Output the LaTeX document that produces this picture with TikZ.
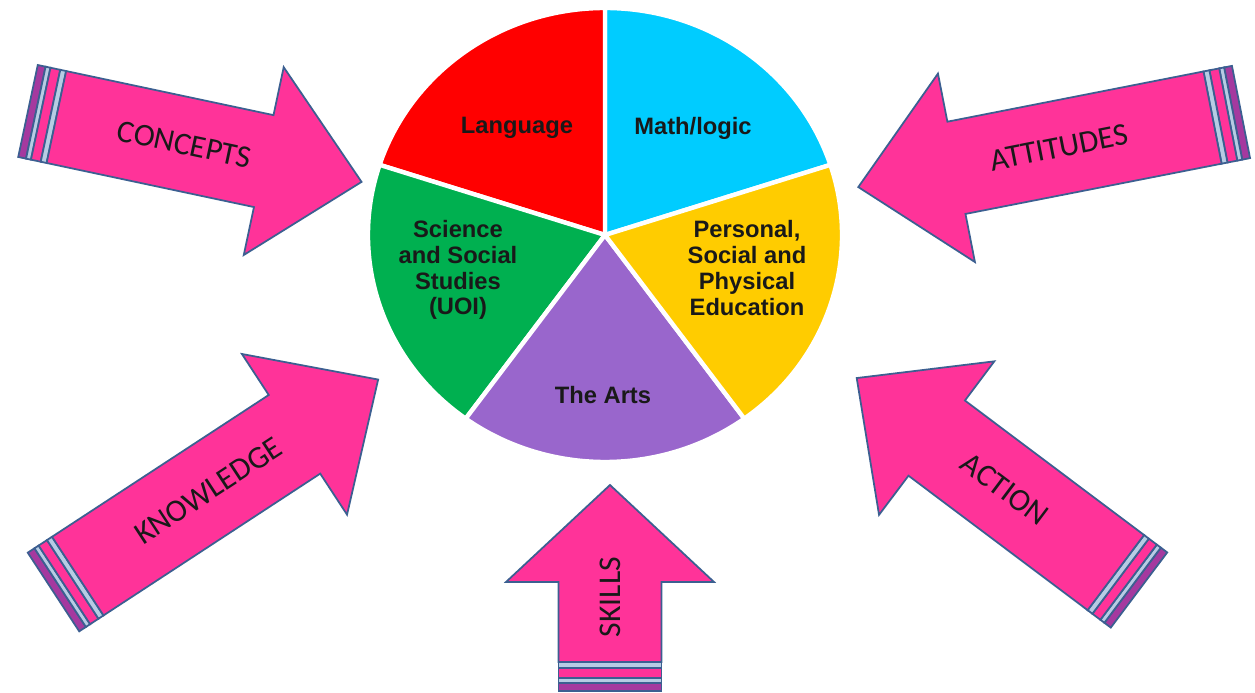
\documentclass[tikz,border=0pt]{standalone}
\usepackage{fontspec}
\setmainfont{Liberation Sans}
\newfontfamily\arrowfont{Carlito}

\definecolor{hotpink}{HTML}{FF3399}
\definecolor{edgeblue}{HTML}{3C5F91}
\definecolor{stripeblue}{HTML}{B7CCE4}
\definecolor{bandpurple}{HTML}{A5399F}
\definecolor{piered}{HTML}{FF0000}
\definecolor{piecyan}{HTML}{00CCFF}
\definecolor{pieyellow}{HTML}{FFCC00}
\definecolor{piegreen}{HTML}{00B050}
\definecolor{piepurple}{HTML}{9966CC}

\tikzset{
  arrowbody/.style={fill=hotpink, draw=edgeblue, line width=1pt, line join=miter},
  stripe/.style={fill=#1, draw=edgeblue, line width=1pt},
  arrowlabel/.style={font=\arrowfont\fontsize{18}{20}\selectfont, text=black!90},
  slice/.style={fill=#1, draw=white, line width=2.5pt, line join=round},
  slicelabel/.style={font=\bfseries\fontsize{13.5}{14.7}\selectfont, align=center, text=black!90},
}

% block arrow with striped tail: name, tail, angle, length, label pos, label
\newcommand{\crayonarrow}[6]{%
  \begin{scope}[shift={#2}, rotate=#3]
    \draw[stripe=bandpurple] (0,-\sw) rectangle (8,\sw);
    \draw[stripe=stripeblue] (8,-\sw) rectangle (13,\sw);
    \draw[stripe=hotpink] (13,-\sw) rectangle (23,\sw);
    \draw[stripe=stripeblue] (23,-\sw) rectangle (29,\sw);
    \draw[arrowbody] (29,-\sw) -- ({#4-\hl},-\sw) -- ({#4-\hl},-\hw) -- (#4,0)
      -- ({#4-\hl},\hw) -- ({#4-\hl},\sw) -- (29,\sw) -- cycle;
    \pgfmathsetmacro\labelrot{cos(#3)<(-0.01) ? #3-180 : #3}
    \node[arrowlabel, rotate=\labelrot] (#1) at (#5,0) {#6};
  \end{scope}}

% pie slice: colour, start angle, end angle
\newcommand{\pieslice}[3]{%
  \draw[slice=#1] (c) -- ++({\rx*cos(#2)},{\ry*sin(#2)})
    arc[start angle=#2, end angle=#3, x radius=\rx, y radius=\ry] -- cycle;}

\begin{document}
\begin{tikzpicture}[x=0.02cm, y=0.02cm]
\useasboundingbox (0,0) rectangle (1255,693);
\clip (0,0) rectangle (1255,693);

% pie
\coordinate (c) at (605,458);
\def\rx{237}\def\ry{227}
\pieslice{piecyan}{18}{90}
\pieslice{piered}{90}{162}
\pieslice{piegreen}{162}{234}
\pieslice{piepurple}{234}{306}
\pieslice{pieyellow}{-54}{18}

\node[slicelabel] (lang) at (517,565) {Language};
\node[slicelabel] (math) at (693,565) {Math/logic};
\node[slicelabel] (sci) at (458,423) {Science\\and Social\\Studies\\(UOI)};
\node[slicelabel] (pse) at (747,425) {Personal,\\Social and\\Physical\\Education};
\node[slicelabel] (arts) at (603,298) {The Arts};

% arrows
\def\sw{47}\def\hw{96}\def\hl{100}
\crayonarrow{concepts}{(28,582)}{-12}{341}{160}{CONCEPTS}
\crayonarrow{attitudes}{(1241,581)}{191.1}{390}{185}{ATTITUDES}
\crayonarrow{knowledge}{(53.5,101)}{33.2}{388}{185}{KNOWLEDGE}
\crayonarrow{action}{(1139,103)}{143.1}{353}{168}{ACTION}
\def\sw{51.5}\def\hw{104}\def\hl{97}
\crayonarrow{skills}{(610,2)}{90}{206}{94}{SKILLS}
\end{tikzpicture}
\end{document}
